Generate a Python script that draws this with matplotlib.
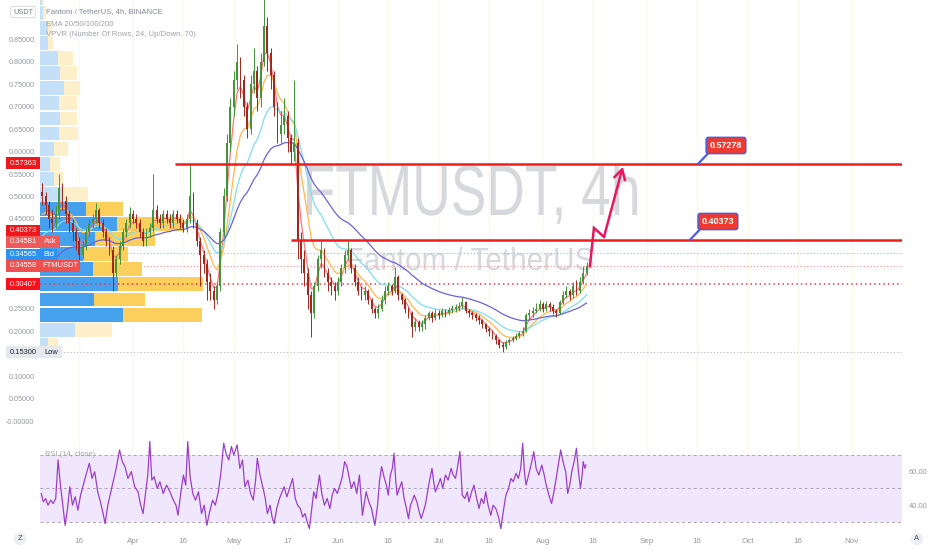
import datetime
import numpy as np
import pandas as pd
import matplotlib
matplotlib.use("Agg")
import matplotlib.pyplot as plt
import matplotlib.transforms as mtransforms
from matplotlib.patches import Rectangle, PathPatch
from matplotlib.textpath import TextPath
from matplotlib.font_manager import FontProperties

plt.rcParams['font.family'] = ['Liberation Sans', 'DejaVu Sans']

BASE = datetime.date(2021, 3, 1)
FIRST = datetime.date(2021, 3, 5)

# daily candles (FTMUSDT, Mar 5 - Aug 14 2021)
first_open = 0.51
closes = [0.50, 0.48, 0.45, 0.44, 0.46, 0.52, 0.49, 0.46, 0.44, 0.42,
          0.40, 0.37, 0.39, 0.42, 0.44, 0.45, 0.47, 0.44, 0.42, 0.40,
          0.38, 0.33, 0.36, 0.39, 0.42, 0.44, 0.46, 0.45, 0.44, 0.42,
          0.40, 0.42, 0.43, 0.47, 0.45, 0.44, 0.46, 0.45, 0.44, 0.46,
          0.45, 0.44, 0.43, 0.45, 0.50, 0.44, 0.40, 0.37, 0.35, 0.31,
          0.29, 0.27, 0.30, 0.42, 0.50, 0.62, 0.70, 0.76, 0.80, 0.76,
          0.70, 0.65, 0.75, 0.78, 0.72, 0.80, 0.88, 0.82, 0.77, 0.70,
          0.64, 0.66, 0.68, 0.63, 0.60, 0.62, 0.40, 0.36, 0.33, 0.28,
          0.24, 0.30, 0.36, 0.38, 0.33, 0.31, 0.30, 0.29, 0.31, 0.34,
          0.37, 0.38, 0.34, 0.31, 0.29, 0.28, 0.29, 0.27, 0.25, 0.24,
          0.25, 0.27, 0.29, 0.30, 0.29, 0.32, 0.28, 0.27, 0.25, 0.24,
          0.21, 0.22, 0.21, 0.215, 0.23, 0.24, 0.23, 0.24, 0.236, 0.245,
          0.24, 0.248, 0.25, 0.252, 0.256, 0.265, 0.245, 0.24, 0.235, 0.23,
          0.225, 0.215, 0.205, 0.20, 0.19, 0.18, 0.17, 0.165, 0.175, 0.18,
          0.185, 0.19, 0.195, 0.20, 0.235, 0.24, 0.245, 0.25, 0.26, 0.25,
          0.26, 0.255, 0.245, 0.24, 0.265, 0.28, 0.29, 0.28, 0.30, 0.29,
          0.31, 0.33, 0.3456]
highs = [0.53, 0.51, 0.49, 0.47, 0.48, 0.55, 0.53, 0.50, 0.47, 0.45,
         0.43, 0.41, 0.40, 0.43, 0.45, 0.46, 0.485, 0.475, 0.45, 0.43,
         0.41, 0.39, 0.37, 0.40, 0.43, 0.45, 0.477, 0.47, 0.46, 0.45,
         0.43, 0.43, 0.44, 0.55, 0.48, 0.46, 0.47, 0.47, 0.46, 0.47,
         0.47, 0.46, 0.45, 0.46, 0.575, 0.51, 0.45, 0.41, 0.38, 0.36,
         0.33, 0.30, 0.31, 0.43, 0.52, 0.64, 0.72, 0.78, 0.84, 0.81,
         0.77, 0.71, 0.77, 0.83, 0.79, 0.82, 0.94, 0.90, 0.83, 0.78,
         0.71, 0.69, 0.72, 0.69, 0.64, 0.76, 0.63, 0.42, 0.38, 0.34,
         0.29, 0.31, 0.37, 0.40, 0.385, 0.34, 0.32, 0.31, 0.32, 0.35,
         0.38, 0.40, 0.385, 0.35, 0.32, 0.30, 0.30, 0.295, 0.275, 0.255,
         0.26, 0.28, 0.30, 0.31, 0.305, 0.343, 0.325, 0.285, 0.275, 0.255,
         0.245, 0.23, 0.225, 0.225, 0.235, 0.245, 0.245, 0.25, 0.248, 0.252,
         0.25, 0.255, 0.258, 0.26, 0.265, 0.276, 0.268, 0.25, 0.245, 0.24,
         0.235, 0.228, 0.218, 0.21, 0.203, 0.193, 0.183, 0.175, 0.18, 0.185,
         0.19, 0.196, 0.20, 0.21, 0.24, 0.25, 0.255, 0.262, 0.27, 0.265,
         0.268, 0.265, 0.26, 0.25, 0.27, 0.29, 0.30, 0.295, 0.31, 0.315,
         0.32, 0.345, 0.355]
lows = [0.48, 0.46, 0.43, 0.42, 0.43, 0.45, 0.47, 0.44, 0.42, 0.40,
        0.38, 0.358, 0.36, 0.38, 0.41, 0.43, 0.44, 0.43, 0.41, 0.39,
        0.37, 0.29, 0.32, 0.35, 0.38, 0.41, 0.43, 0.44, 0.43, 0.41,
        0.39, 0.39, 0.41, 0.42, 0.44, 0.43, 0.43, 0.44, 0.43, 0.43,
        0.44, 0.43, 0.42, 0.42, 0.44, 0.43, 0.39, 0.30, 0.33, 0.27,
        0.27, 0.25, 0.26, 0.29, 0.41, 0.49, 0.60, 0.68, 0.74, 0.72,
        0.68, 0.63, 0.64, 0.73, 0.69, 0.70, 0.79, 0.78, 0.74, 0.68,
        0.62, 0.62, 0.64, 0.60, 0.57, 0.58, 0.36, 0.33, 0.30, 0.25,
        0.187, 0.23, 0.29, 0.34, 0.32, 0.29, 0.28, 0.27, 0.28, 0.30,
        0.33, 0.36, 0.33, 0.30, 0.28, 0.27, 0.27, 0.26, 0.24, 0.23,
        0.23, 0.245, 0.26, 0.28, 0.28, 0.285, 0.27, 0.26, 0.24, 0.23,
        0.187, 0.20, 0.20, 0.20, 0.205, 0.225, 0.22, 0.225, 0.228, 0.232,
        0.232, 0.235, 0.24, 0.243, 0.245, 0.25, 0.24, 0.232, 0.228, 0.222,
        0.215, 0.208, 0.198, 0.19, 0.183, 0.172, 0.163, 0.153, 0.16, 0.17,
        0.175, 0.18, 0.185, 0.19, 0.198, 0.228, 0.232, 0.24, 0.245, 0.242,
        0.245, 0.245, 0.238, 0.232, 0.238, 0.26, 0.275, 0.27, 0.275, 0.28,
        0.285, 0.305, 0.325]

# EMA 20/50/100/200 on 4h bars, with their level at the left edge of the chart
ema_periods = [20, 50, 100, 200]
ema_seed = [0.48, 0.45, 0.40, 0.325]
ema_colors = ['#f7767e', '#ffb74d', '#80deea', '#6a62d8']

# RSI(14): (day since Mar 1, value)
rsi_day = [3.7, 4.3, 5.0, 5.7, 6.5, 7.2, 8.0, 8.7, 9.4, 10.1, 10.8, 11.5, 12.2, 13.0, 13.8,
           14.6, 15.4, 16.2, 17.0, 18.0, 18.8, 19.6, 20.5, 21.3, 22.0, 22.7, 23.5, 24.3,
           25.2, 26.0, 27.0, 27.8, 28.6, 29.5, 30.5, 31.5, 32.5, 33.3, 34.0, 34.8, 35.4,
           36.0, 36.6, 37.3, 38.2, 39.0, 40.0, 41.0, 42.0, 43.0, 43.8, 44.4, 45.2, 46.0,
           46.7, 47.3, 48.0, 48.8, 49.6, 50.5, 51.4, 52.2, 53.0, 53.8, 54.7, 55.5, 56.4,
           57.2, 58.0, 58.8, 59.5, 60.3, 61.0, 62.0, 62.8, 63.6, 64.3, 65.2, 66.0, 66.8,
           67.5, 68.0, 68.8, 69.5, 70.3, 71.0, 71.8, 72.4, 73.0, 73.8, 74.6, 75.4, 76.0,
           76.8, 77.6, 78.5, 79.3, 80.0, 80.8, 81.5, 82.2, 83.0, 83.5, 84.2, 84.8, 85.5,
           86.5, 87.2, 88.0, 88.8, 89.6, 90.3, 91.0, 91.8, 92.6, 93.3, 94.0, 94.7, 95.4,
           96.0, 96.8, 97.6, 98.4, 99.3, 100.4, 101.2, 102.0, 103.0, 103.8, 104.4, 105.0,
           105.7, 106.4, 107.0, 107.6, 108.2, 108.7, 109.2, 109.6, 110.3, 111.0, 111.7,
           112.4, 113.0, 113.6, 114.2, 114.7, 115.5, 116.2, 116.8, 117.4, 118.0, 118.6,
           119.3, 120.0, 120.5, 121.0, 121.8, 122.5, 123.2, 124.0, 124.8, 125.7, 126.3,
           127.0, 127.7, 128.3, 128.7, 129.0, 129.8, 130.5, 131.0, 131.8, 132.5, 133.3,
           134.0, 134.7, 135.4, 136.0, 136.7, 137.5, 138.2, 139.0, 139.8, 140.5, 141.2,
           142.0, 142.8, 143.5, 144.2, 145.0, 145.7, 146.4, 147.0, 147.5, 148.0, 148.5,
           149.0, 149.7, 150.3, 151.0, 151.8, 152.7, 153.4, 154.0, 154.8, 155.6, 156.2,
           156.8, 157.6, 158.3, 159.0, 159.8, 160.4, 161.0, 161.6, 162.3, 163.0, 163.6,
           164.2, 164.7, 165.0, 165.5, 165.8]
rsi_val = [47, 42, 44, 40, 43, 41, 44, 67, 52, 40, 28, 38, 51, 40, 45,
           37, 46, 52, 58, 65, 56, 60, 48, 42, 36, 29, 40, 47,
           55, 62, 73, 66, 63, 56, 60, 51, 48, 40, 35, 48, 58,
           78, 55, 57, 50, 54, 47, 52, 48, 43, 40, 34, 47, 58,
           52, 78, 57, 47, 43, 48, 35, 40, 28, 36, 43, 40, 48,
           60, 77, 70, 67, 75, 70, 76, 62, 67, 51, 55, 47, 43,
           55, 68, 58, 52, 45, 35, 40, 33, 29, 38, 44, 48, 51,
           45, 50, 56, 44, 40, 38, 33, 35, 29, 26, 38, 48, 44,
           58, 47, 40, 44, 38, 46, 50, 47, 52, 57, 66, 63, 56,
           50, 54, 47, 58, 34, 48, 42, 38, 28, 40, 55, 63,
           57, 52, 46, 58, 62, 71, 55, 46, 50, 54, 44,
           38, 32, 40, 43, 46, 42, 36, 32, 36, 40, 47,
           55, 62, 54, 48, 52, 56, 50, 58, 55, 62, 58,
           56, 64, 72, 58, 46, 44, 48, 42, 48, 52, 44,
           38, 44, 41, 48, 40, 34, 40, 38, 33, 26, 36,
           46, 50, 56, 54, 59, 56, 62, 77, 60, 52, 56,
           60, 66, 72, 62, 58, 64, 58, 52, 46, 41, 47,
           54, 64, 73, 66, 60, 47, 52, 60, 66, 74, 60,
           50, 58, 66, 62, 64]

# visible range volume profile, 24 rows from the period low upward
vp_low = 0.153
vp_row = 0.0336
vp_up = [8, 35, 83, 54, 78, 53, 43, 55, 77, 46, 22, 14, 10, 14, 19, 20, 19, 24, 20, 18, 8, 8, 3, 2]
vp_down = [10, 37, 79, 51, 85, 49, 45, 60, 66, 37, 26, 9, 10, 14, 19, 17, 18, 16, 17, 15, 5, 4, 3, 2]
va_rows = (2, 9)   # value area (70%)

# drawings
levels = [0.57278, 0.40373]
level_start = [43.5, 78.0]
callout_box = [(207.5, 0.6136), (205.1, 0.4443)]
arrow_d = [167.0, 168.2, 171.2, 176.8]
arrow_p = [0.345, 0.430, 0.410, 0.566]

# axis tags on the price scale
tag_prices = [0.57363, 0.40373, 0.34581, 0.34565, 0.34558, 0.30407, 0.15300]
tag_names = [None, None, 'Ask', 'Bid', 'FTMUSDT', None, 'Low']
tag_shift = [0, 9, 24, 11, 0, 0, 0]
tag_colors = ['#f0171c', '#f0171c', '#f05a5a', '#2d92ee', '#ef4f4f', '#f5121a', '#e6e8ee']
tag_name_w = [0, 0, 20, 17, 40, 0, 22]

# price scale labels (those hidden under tags in the original are left out)
price_ticks = [0.0, 0.05, 0.10, 0.20, 0.25, 0.45, 0.50, 0.55, 0.60, 0.65, 0.70, 0.75, 0.80, 0.85]

tick_dates = [datetime.date(2021, 3, 16), datetime.date(2021, 4, 1), datetime.date(2021, 4, 16),
              datetime.date(2021, 5, 1), datetime.date(2021, 5, 17), datetime.date(2021, 6, 1),
              datetime.date(2021, 6, 16), datetime.date(2021, 7, 1), datetime.date(2021, 7, 16),
              datetime.date(2021, 8, 1), datetime.date(2021, 8, 16), datetime.date(2021, 9, 1),
              datetime.date(2021, 9, 16), datetime.date(2021, 10, 1), datetime.date(2021, 10, 16),
              datetime.date(2021, 11, 1)]
tick_labels = ['16', 'Apr', '16', 'May', '17', 'Jun', '16', 'Jul', '16', 'Aug', '16',
               'Sep', '16', 'Oct', '16', 'Nov']

W, H = 932, 550
X_LEFT, X_RIGHT = 3.32, 259.9
GRAY = '#9598a1'

fig = plt.figure(figsize=(W / 100, H / 100), dpi=100)
ax = fig.add_axes([40 / W, 1 - 436 / H, 862 / W, 436 / H])
ax_rsi = fig.add_axes([40 / W, 1 - 530 / H, 862 / W, 94 / H], sharex=ax)

ax.set_xlim(X_LEFT, X_RIGHT)
ax.set_ylim(-0.0334, 0.9376)
ax_rsi.set_ylim(25.2, 81.3)

tick_x = [(d - BASE).days for d in tick_dates]
for a in (ax, ax_rsi):
    for s in a.spines.values():
        s.set_visible(False)
    for t in tick_x:
        a.axvline(t, color='#fcf9ec', lw=1, zorder=0)

# watermark
def stamp(text, x0, x1, ytop, ybase, size_ref='F'):
    prop = FontProperties(family='Liberation Sans')
    tp = TextPath((0, 0), text, size=1, prop=prop)
    cap = TextPath((0, 0), size_ref, size=1, prop=prop).get_extents().height
    bb = tp.get_extents()
    sx = (x1 - x0) / bb.width
    sy = (ybase - ytop) / cap
    tr = (mtransforms.Affine2D().translate(-bb.x0, 0).scale(sx / W, sy / H)
          .translate(x0 / W, 1 - ybase / H) + fig.transFigure)
    ax.add_patch(PathPatch(tp, transform=tr, fc='#d7d8dc', ec='none', zorder=0.5, clip_on=False))

stamp('FTMUSDT, 4h', 307, 637, 166, 215)
stamp('Fantom / TetherUS', 348, 593, 248, 270)

# volume profile
blend = mtransforms.blended_transform_factory(ax.transAxes, ax.transData)
vp_tot = np.array(vp_up) + np.array(vp_down)
vp_scale = 0.189 / vp_tot.max()
for i, (u, dn) in enumerate(zip(vp_up, vp_down)):
    inside = va_rows[0] <= i <= va_rows[1]
    cu = '#45a1ee' if inside else '#c4e0f8'
    cd = '#fbcf5c' if inside else '#fdefca'
    y0 = vp_low + i * vp_row + vp_row * 0.04
    hh = vp_row * 0.92
    ax.add_patch(Rectangle((0, y0), u * vp_scale, hh, transform=blend, fc=cu, ec='none', zorder=1))
    ax.add_patch(Rectangle((u * vp_scale, y0), dn * vp_scale, hh, transform=blend, fc=cd, ec='none', zorder=1))

# price lines
ax.axhline(0.374, color='#a7bcc4', lw=0.8, ls=(0, (1, 2)), zorder=0.8)
ax.axhline(0.34558, color='#f58f93', lw=0.8, ls=(0, (1, 2)), zorder=0.8)
ax.axhline(0.153, color='#b2b5be', lw=0.8, ls=(0, (1, 2)), zorder=0.8)
ax.axhline(0.30407, color='#f23645', lw=1.1, ls=(0, (1, 2)), zorder=2)

# candles
days = np.arange(len(closes)) + (FIRST - BASE).days
c = np.array(closes)
o = np.array([first_open] + closes[:-1])
cols = np.where(c >= o, '#43943a', '#a1281e')
ax.vlines(days, lows, highs, colors=cols, lw=0.7, zorder=3)
ax.bar(days, np.maximum(np.abs(c - o), 0.003), bottom=np.minimum(o, c), width=0.55,
       color=cols, zorder=3)

# EMAs
for p, seed, col in zip(ema_periods, ema_seed, ema_colors):
    e = pd.Series([seed] + closes).ewm(span=p / 6, adjust=False).mean().iloc[1:]
    ax.plot(days, e.values, color=col, lw=0.9, zorder=2.5)

# horizontal levels and callouts
for lv, st, (bx, by) in zip(levels, level_start, callout_box):
    ax.hlines(lv, st, X_RIGHT, color='#f01c1c', lw=1.8, zorder=4)
    ax.annotate(f'{lv:.5f}', xy=(bx - 8.3, lv), xytext=(bx, by), ha='center', va='center',
                fontsize=6.5, color='white', weight='bold', zorder=6,
                bbox=dict(boxstyle='round,pad=0.4,rounding_size=0.25', fc='#f03a2e', ec='#4a5ce6', lw=1.1),
                arrowprops=dict(arrowstyle='-', color='#4a5ce6', lw=1.6, shrinkA=0, shrinkB=0,
                                relpos=(0.05, 0.0)))

# projected path
ax.plot(arrow_d[:-1], arrow_p[:-1], color='#e8175d', lw=1.8, zorder=5, solid_joinstyle='miter')
ax.annotate('', xy=(arrow_d[-1], arrow_p[-1]), xytext=(arrow_d[-2], arrow_p[-2]), zorder=5,
            arrowprops=dict(arrowstyle='->,head_length=0.7,head_width=0.4', color='#e8175d',
                            lw=1.8, shrinkA=0, shrinkB=0))

# price axis
ax.set_yticks(price_ticks)
ax.set_yticklabels(['-0.00000' if v < 0.001 else f'{v:.5f}' for v in price_ticks])
ax.tick_params(axis='y', length=0, pad=4, labelsize=5.2, labelcolor=GRAY)
ax.tick_params(axis='x', length=0, labelbottom=False)

# tags
axh_px = 436
ph = 12 * (ax.get_ylim()[1] - ax.get_ylim()[0]) / axh_px
for price, name, sh, fc, nw in zip(tag_prices, tag_names, tag_shift, tag_colors, tag_name_w):
    off = mtransforms.ScaledTranslation(0, sh / 100, fig.dpi_scale_trans)
    tr = mtransforms.blended_transform_factory(fig.transFigure, ax.transData) + off
    tc = '#1e222d' if name == 'Low' else 'white'
    ax.add_patch(Rectangle((6 / W, price - ph / 2), 34 / W, ph, transform=tr, fc=fc, ec='none',
                           zorder=10, clip_on=False))
    ax.text(23 / W, price, f'{price:.5f}', transform=tr, ha='center', va='center', color=tc,
            fontsize=5.4, zorder=11, clip_on=False)
    if name:
        ax.add_patch(Rectangle((40 / W, price - ph / 2), nw / W, ph, transform=tr, fc=fc,
                               ec='none', zorder=10, clip_on=False))
        ax.text((40 + nw / 2) / W, price, name, transform=tr, ha='center', va='center', color=tc,
                fontsize=5.4, zorder=11, clip_on=False)

# legend text and currency box
fig.text(23 / W, 1 - 12 / H, 'USDT', ha='center', va='center', fontsize=5.3, color='#787b86',
         bbox=dict(boxstyle='round,pad=0.3,rounding_size=0.3', fc='white', ec='#d1d4dc', lw=0.6),
         zorder=12)
fig.text(46 / W, 1 - 12 / H, 'Fantom / TetherUS, 4h, BINANCE', va='center', fontsize=5.6, color='#868993')
fig.text(46 / W, 1 - 24 / H, 'EMA 20/50/100/200', va='center', fontsize=5.6, color='#a0a3ab')
fig.text(46 / W, 1 - 35 / H, 'VPVR (Number Of Rows, 24, Up/Down, 70)', va='center', fontsize=5.6,
         color='#a0a3ab')

# RSI pane
ax_rsi.axhspan(30, 70, color='#f1e7fd', lw=0, zorder=0.5)
for lv in (70, 50, 30):
    ax_rsi.axhline(lv, color='#aaa4b6', lw=0.7, ls=(0, (3, 3)), zorder=1)
ax_rsi.plot(rsi_day, rsi_val, color='#9b3fc6', lw=0.9, zorder=3)
ax_rsi.text(0.006, 70, 'RSI (14, close)', transform=mtransforms.blended_transform_factory(
    ax_rsi.transAxes, ax_rsi.transData), va='center', fontsize=5.4, color='#a0a3ab', zorder=4)
ax_rsi.yaxis.tick_right()
ax_rsi.set_yticks([40, 60])
ax_rsi.set_yticklabels(['40.00', '60.00'])
ax_rsi.tick_params(axis='y', length=0, pad=5, labelsize=5.4, labelcolor=GRAY)
ax_rsi.set_xticks(tick_x)
ax_rsi.set_xticklabels(tick_labels)
ax_rsi.tick_params(axis='x', length=0, pad=6, labelsize=5.8, labelcolor=GRAY)
ax_rsi.set_xlim(X_LEFT, X_RIGHT)

for x, s in ((20, 'Z'), (917, 'A')):
    fig.text(x / W, 1 - 539 / H, s, ha='center', va='center', fontsize=5.5, color='#4a4d57',
             bbox=dict(boxstyle='circle,pad=0.35', fc='#eceef2', ec='none'))

fig.savefig('out.png', dpi=100)
